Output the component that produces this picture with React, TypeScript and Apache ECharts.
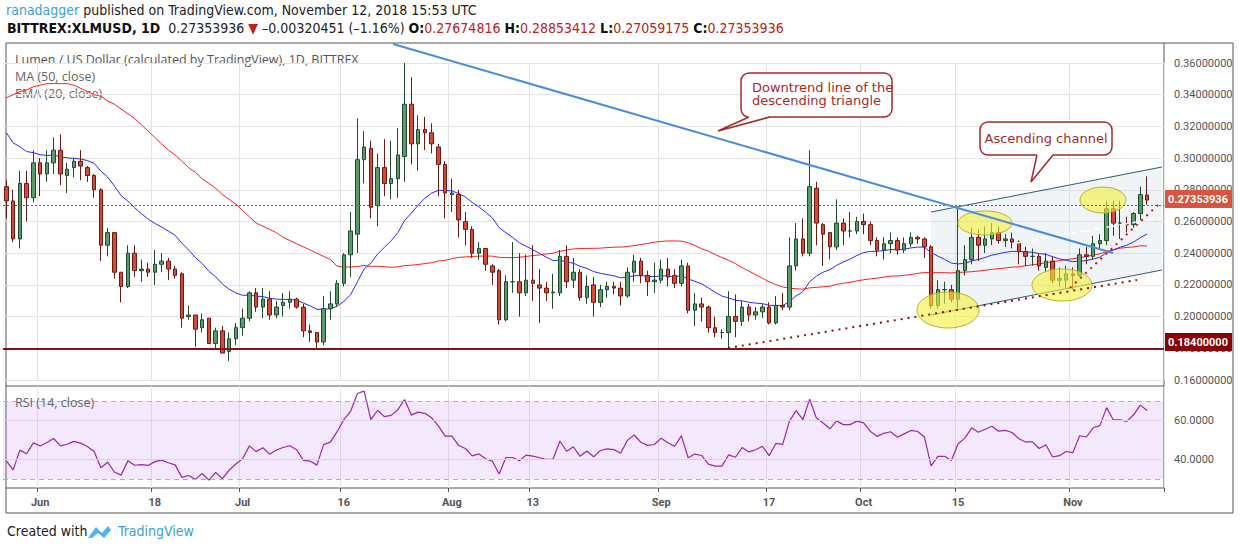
import { useEffect, useRef } from 'react';
import * as echarts from 'echarts';

// daily candles, 2018-05-27 .. 2018-11-12
const startDate = Date.UTC(2018, 4, 27);
const opens = [
  0.282, 0.273, 0.249, 0.284, 0.275, 0.297, 0.290, 0.297, 0.305, 0.289, 0.294, 0.298, 0.294, 0.289, 0.280, 0.245, 0.253, 0.228, 0.219, 0.240,
  0.229, 0.230, 0.228, 0.233, 0.235, 0.230, 0.227, 0.200, 0.201, 0.193, 0.199, 0.183, 0.191, 0.178, 0.186, 0.193, 0.199, 0.215, 0.206, 0.211,
  0.201, 0.207, 0.209, 0.211, 0.206, 0.191, 0.190, 0.184, 0.205, 0.208, 0.221, 0.239, 0.252, 0.299, 0.306, 0.270, 0.294, 0.284, 0.287, 0.301,
  0.334, 0.309, 0.318, 0.316, 0.307, 0.296, 0.277, 0.277, 0.260, 0.255, 0.240, 0.243, 0.232, 0.229, 0.198, 0.222, 0.222, 0.215, 0.223, 0.220,
  0.218, 0.215, 0.215, 0.238, 0.223, 0.228, 0.212, 0.220, 0.209, 0.217, 0.219, 0.218, 0.213, 0.228, 0.235, 0.226, 0.222, 0.223, 0.230, 0.226,
  0.221, 0.232, 0.204, 0.208, 0.206, 0.193, 0.190, 0.190, 0.200, 0.197, 0.206, 0.201, 0.203, 0.206, 0.196, 0.207, 0.206, 0.232, 0.249, 0.240,
  0.281, 0.258, 0.253, 0.244, 0.259, 0.254, 0.254, 0.260, 0.258, 0.248, 0.242, 0.246, 0.248, 0.242, 0.246, 0.250, 0.249, 0.244, 0.207, 0.217,
  0.217, 0.211, 0.229, 0.236, 0.250, 0.245, 0.249, 0.253, 0.248, 0.249, 0.247, 0.241, 0.238, 0.238, 0.231, 0.235, 0.223, 0.223, 0.227, 0.226,
  0.239, 0.238, 0.246, 0.248, 0.268, 0.259, 0.258, 0.258, 0.265, 0.27674816,
];
const closes = [
  0.273, 0.249, 0.284, 0.275, 0.297, 0.290, 0.297, 0.305, 0.290, 0.293, 0.298, 0.295, 0.289, 0.280, 0.245, 0.253, 0.228, 0.219, 0.240, 0.229,
  0.230, 0.228, 0.233, 0.235, 0.230, 0.226, 0.199, 0.201, 0.192, 0.198, 0.183, 0.191, 0.177, 0.186, 0.193, 0.199, 0.215, 0.206, 0.211, 0.201,
  0.206, 0.209, 0.211, 0.206, 0.191, 0.190, 0.184, 0.205, 0.208, 0.221, 0.239, 0.254, 0.299, 0.307, 0.269, 0.294, 0.284, 0.287, 0.302, 0.334,
  0.309, 0.318, 0.316, 0.309, 0.296, 0.278, 0.278, 0.261, 0.255, 0.240, 0.243, 0.233, 0.228, 0.198, 0.222, 0.222, 0.215, 0.223, 0.221, 0.218,
  0.215, 0.2155, 0.238, 0.222, 0.228, 0.212, 0.219, 0.209, 0.217, 0.219, 0.218, 0.213, 0.228, 0.235, 0.226, 0.222, 0.223, 0.230, 0.225, 0.221,
  0.232, 0.204, 0.208, 0.206, 0.193, 0.190, 0.190, 0.200, 0.197, 0.206, 0.201, 0.203, 0.206, 0.196, 0.207, 0.206, 0.232, 0.249, 0.240, 0.282,
  0.259, 0.252, 0.244, 0.259, 0.254, 0.254, 0.260, 0.258, 0.248, 0.242, 0.246, 0.248, 0.242, 0.246, 0.250, 0.249, 0.244, 0.207, 0.217, 0.217,
  0.211, 0.229, 0.236, 0.250, 0.245, 0.249, 0.253, 0.248, 0.249, 0.247, 0.241, 0.238, 0.238, 0.232, 0.235, 0.223, 0.224, 0.227, 0.226, 0.239,
  0.238, 0.246, 0.248, 0.268, 0.259, 0.259, 0.258, 0.265, 0.277, 0.27353936,
];
const lows = [
  0.262, 0.247, 0.243, 0.260, 0.272, 0.276, 0.285, 0.290, 0.283, 0.278, 0.288, 0.286, 0.285, 0.275, 0.235, 0.238, 0.224, 0.209, 0.218, 0.225,
  0.222, 0.225, 0.220, 0.228, 0.223, 0.224, 0.193, 0.198, 0.181, 0.190, 0.183, 0.180, 0.177, 0.172, 0.182, 0.188, 0.197, 0.203, 0.199, 0.198,
  0.199, 0.200, 0.205, 0.205, 0.187, 0.184, 0.179, 0.182, 0.198, 0.206, 0.219, 0.225, 0.240, 0.284, 0.262, 0.257, 0.276, 0.274, 0.275, 0.285,
  0.296, 0.292, 0.305, 0.303, 0.276, 0.262, 0.266, 0.250, 0.245, 0.237, 0.236, 0.229, 0.220, 0.195, 0.197, 0.215, 0.200, 0.213, 0.210, 0.196,
  0.210, 0.205, 0.213, 0.218, 0.218, 0.210, 0.208, 0.200, 0.206, 0.212, 0.214, 0.207, 0.212, 0.222, 0.221, 0.213, 0.215, 0.221, 0.219, 0.218,
  0.219, 0.202, 0.194, 0.197, 0.190, 0.187, 0.186, 0.180, 0.187, 0.194, 0.197, 0.198, 0.199, 0.195, 0.195, 0.204, 0.204, 0.229, 0.238, 0.238,
  0.245, 0.232, 0.236, 0.242, 0.245, 0.250, 0.252, 0.252, 0.245, 0.238, 0.236, 0.240, 0.239, 0.240, 0.244, 0.246, 0.237, 0.205, 0.205, 0.208,
  0.209, 0.205, 0.226, 0.233, 0.235, 0.240, 0.245, 0.246, 0.244, 0.243, 0.233, 0.232, 0.232, 0.229, 0.228, 0.221, 0.219, 0.218, 0.217, 0.225,
  0.233, 0.236, 0.243, 0.245, 0.251, 0.249, 0.253, 0.256, 0.261, 0.27059175,
];
const highs = [
  0.286, 0.280, 0.292, 0.292, 0.305, 0.300, 0.305, 0.313, 0.315, 0.297, 0.300, 0.305, 0.295, 0.290, 0.281, 0.256, 0.253, 0.228, 0.245, 0.245,
  0.236, 0.234, 0.242, 0.240, 0.237, 0.232, 0.228, 0.207, 0.201, 0.202, 0.199, 0.193, 0.194, 0.190, 0.196, 0.205, 0.216, 0.218, 0.218, 0.216,
  0.210, 0.215, 0.216, 0.212, 0.208, 0.195, 0.190, 0.213, 0.216, 0.223, 0.240, 0.266, 0.325, 0.317, 0.311, 0.303, 0.312, 0.311, 0.319, 0.360,
  0.351, 0.327, 0.326, 0.322, 0.309, 0.298, 0.287, 0.280, 0.266, 0.257, 0.247, 0.243, 0.233, 0.230, 0.226, 0.247, 0.240, 0.239, 0.245, 0.230,
  0.222, 0.227, 0.242, 0.245, 0.237, 0.230, 0.226, 0.225, 0.220, 0.222, 0.222, 0.222, 0.231, 0.239, 0.237, 0.229, 0.234, 0.236, 0.237, 0.230,
  0.236, 0.234, 0.215, 0.212, 0.207, 0.200, 0.192, 0.216, 0.214, 0.210, 0.208, 0.206, 0.208, 0.209, 0.213, 0.215, 0.250, 0.259, 0.262, 0.305,
  0.285, 0.259, 0.253, 0.274, 0.262, 0.266, 0.263, 0.265, 0.260, 0.250, 0.250, 0.253, 0.250, 0.250, 0.253, 0.251, 0.250, 0.245, 0.223, 0.222,
  0.220, 0.269, 0.245, 0.256, 0.255, 0.257, 0.259, 0.257, 0.252, 0.253, 0.248, 0.244, 0.243, 0.240, 0.240, 0.238, 0.231, 0.232, 0.231, 0.243,
  0.244, 0.251, 0.252, 0.273, 0.273, 0.273, 0.263, 0.266, 0.282, 0.28853412,
];
const ma50Head = [
  0.338, 0.340, 0.342, 0.343, 0.345, 0.346, 0.347, 0.347, 0.347, 0.347, 0.346, 0.344, 0.342, 0.340, 0.339, 0.336, 0.334, 0.331, 0.328, 0.325,
  0.321, 0.317, 0.313, 0.309, 0.305, 0.302, 0.298, 0.294, 0.291, 0.287, 0.284, 0.281, 0.277, 0.274, 0.271, 0.267, 0.263, 0.259, 0.257, 0.255,
  0.253, 0.250, 0.248, 0.246, 0.244, 0.242, 0.240, 0.238, 0.236,
];
const emaSeed = 0.316;
const rsiSeedGain = 0.0055;
const rsiSeedLoss = 0.0085;
const tickDays = ['06-01', '06-18', '07-01', '07-16', '08-01', '08-13', '09-01', '09-17', '10-01', '10-15', '11-01'];
const monthNames = ['Jan', 'Feb', 'Mar', 'Apr', 'May', 'Jun', 'Jul', 'Aug', 'Sep', 'Oct', 'Nov', 'Dec'];
const priceTicks = [0.16, 0.18, 0.2, 0.22, 0.24, 0.26, 0.28, 0.3, 0.32, 0.34, 0.36];
const lastPrice = 0.27353936;
const supportLevel = 0.184;

const categories: string[] = [];
for (let i = 0; i < closes.length + 2; i++) {
  const d = new Date(startDate + i * 86400000);
  categories.push(String(d.getUTCMonth() + 1).padStart(2, '0') + '-' + String(d.getUTCDate()).padStart(2, '0'));
}
const isTick = (_i: number, v: string) => tickDays.includes(v);
const tickLabel = (v: string) => {
  const [m, d] = v.split('-').map(Number);
  return d === 1 ? monthNames[m - 1] : String(d);
};

const candles = closes.map((c, i) => [opens[i], c, lows[i], highs[i]]);

const ma50 = closes.map((_, i) => {
  if (i < 49) return ma50Head[i];
  let s = 0;
  for (let j = i - 49; j <= i; j++) s += closes[j];
  return s / 50;
});

const ema20: number[] = [];
closes.forEach((c, i) => {
  const prev = i === 0 ? emaSeed : ema20[i - 1];
  ema20.push(i === 0 ? emaSeed : prev + (2 / 21) * (c - prev));
});

const rsi: number[] = [];
{
  let ag = rsiSeedGain;
  let al = rsiSeedLoss;
  closes.forEach((c, i) => {
    if (i > 0) {
      const d = c - closes[i - 1];
      ag = (ag * 13 + Math.max(d, 0)) / 14;
      al = (al * 13 + Math.max(-d, 0)) / 14;
    }
    rsi.push(100 - 100 / (1 + ag / al));
  });
}

const T = '#a52a2a';
const narrow = '"Liberation Sans Narrow", "DejaVu Sans Condensed", Roboto, sans-serif';

const App: React.FC = () => {
  const chartRef = useRef<HTMLDivElement | null>(null);

  useEffect(() => {
    if (!chartRef.current) return;
    const chart = echarts.init(chartRef.current, undefined, { renderer: 'svg' });

    const xBase = {
      type: 'category' as const,
      data: categories,
      boundaryGap: true,
      axisLine: { show: false },
      splitLine: { show: true, interval: isTick, lineStyle: { color: '#e4e4e4' } },
    };

    const ellipse = (cx: number, cy: number, rx: number, ry: number) => ({
      type: 'ellipse',
      shape: { cx, cy, rx, ry },
      style: { fill: 'rgba(245,240,60,0.6)', stroke: '#b8b030', lineWidth: 1 },
      z: 5,
    });

    chart.setOption({
      animation: false,
      grid: [
        { left: 3, right: 76, top: 63, height: 317 },
        { left: 3, right: 76, top: 386, height: 102 },
      ],
      xAxis: [
        { ...xBase, gridIndex: 0, axisTick: { show: false }, axisLabel: { show: false } },
        {
          ...xBase,
          gridIndex: 1,
          axisTick: { show: true, interval: isTick, length: 4, lineStyle: { color: '#555' } },
          axisLabel: {
            interval: isTick,
            formatter: tickLabel,
            color: '#555',
            fontSize: 11,
            fontWeight: 'bold',
            fontFamily: 'Roboto',
            margin: 9,
          },
        },
      ],
      yAxis: [
        {
          gridIndex: 0,
          type: 'value',
          position: 'right',
          min: priceTicks[0],
          max: priceTicks[priceTicks.length - 1],
          interval: 0.02,
          axisLine: { show: false },
          axisTick: { show: false },
          axisLabel: { formatter: (v: number) => v.toFixed(8), color: '#555', fontSize: 11, fontFamily: 'Roboto', margin: 10 },
          splitLine: { lineStyle: { color: '#e4e4e4' } },
        },
        {
          gridIndex: 1,
          type: 'value',
          position: 'right',
          min: 25.4,
          max: 77.7,
          axisLine: { show: false },
          axisTick: { show: false },
          axisLabel: { show: false },
          splitLine: { show: false },
        },
      ],
      series: [
        {
          type: 'candlestick',
          xAxisIndex: 0,
          yAxisIndex: 0,
          data: candles,
          barWidth: 4,
          clip: false,
          itemStyle: {
            color: '#5a9a6c',
            borderColor: '#1f4a2b',
            color0: '#d4493a',
            borderColor0: '#6a1a12',
            borderWidth: 1,
          },
          markLine: {
            silent: true,
            symbol: 'none',
            label: { show: false },
            data: [
              { yAxis: supportLevel, lineStyle: { color: '#8b1010', width: 2, type: 'solid' } },
              { yAxis: lastPrice, lineStyle: { color: '#c0392b', width: 1, type: [2, 2] } },
            ],
          },
          z: 3,
        },
        {
          type: 'line',
          name: 'MA (50, close)',
          data: ma50,
          showSymbol: false,
          lineStyle: { color: '#ff1f1f', width: 1 },
          z: 2,
        },
        {
          type: 'line',
          name: 'EMA (20, close)',
          data: ema20,
          showSymbol: false,
          lineStyle: { color: '#2a2aff', width: 1 },
          z: 2,
        },
        {
          type: 'line',
          xAxisIndex: 1,
          yAxisIndex: 1,
          data: rsi,
          showSymbol: false,
          lineStyle: { color: '#9c27b0', width: 1.2 },
          markArea: {
            silent: true,
            itemStyle: { color: 'rgba(190,120,240,0.17)' },
            data: [[{ yAxis: 30 }, { yAxis: 70 }]],
          },
          markLine: {
            silent: true,
            symbol: 'none',
            data: [
              { yAxis: 70, lineStyle: { color: '#b8a8c0', type: [5, 4], width: 1 }, label: { show: false } },
              { yAxis: 30, lineStyle: { color: '#b8a8c0', type: [5, 4], width: 1 }, label: { show: false } },
              {
                yAxis: 60,
                lineStyle: { color: '#ddd0e4', type: 'solid', width: 1 },
                label: { show: true, position: 'end', formatter: '60.0000', color: '#555', fontSize: 11, fontFamily: 'Roboto', distance: 10 },
              },
              {
                yAxis: 40,
                lineStyle: { color: '#ddd0e4', type: 'solid', width: 1 },
                label: { show: true, position: 'end', formatter: '40.0000', color: '#555', fontSize: 11, fontFamily: 'Roboto', distance: 10 },
              },
            ],
          },
        },
      ],
      graphic: [
        // frames
        { type: 'rect', shape: { x: 6, y: 43, width: 1227, height: 470 }, style: { fill: 'none', stroke: '#555', lineWidth: 1 }, silent: true },
        { type: 'line', shape: { x1: 1164, y1: 43, x2: 1164, y2: 488 }, style: { stroke: '#555', lineWidth: 1 } },
        { type: 'line', shape: { x1: 6, y1: 386, x2: 1164, y2: 386 }, style: { stroke: '#555', lineWidth: 1 } },
        { type: 'line', shape: { x1: 6, y1: 488, x2: 1164, y2: 488 }, style: { stroke: '#555', lineWidth: 1 } },
        // header
        {
          type: 'text', x: 6, y: 3,
          style: {
            text: '{a|ranadagger} published on TradingView.com, November 12, 2018 15:53 UTC',
            font: '14px ' + narrow, fill: '#222',
            rich: { a: { fill: '#3ba0d8', font: '14px ' + narrow } },
          },
        },
        {
          type: 'text', x: 7, y: 21,
          style: {
            text: '{b|BITTREX:XLMUSD, 1D}  0.27353936 {r|▼} –0.00320451 (–1.16%) {b|O:}{r|0.27674816} {b|H:}{r|0.28853412} {b|L:}{r|0.27059175} {b|C:}{r|0.27353936}',
            font: '14px ' + narrow, fill: '#222',
            rich: {
              b: { font: 'bold 14px ' + narrow, fill: '#111' },
              r: { font: '14px ' + narrow, fill: '#c0201a' },
            },
          },
        },
        // legend
        { type: 'text', x: 15, y: 53, style: { text: 'Lumen / US Dollar (calculated by TradingView), 1D, BITTREX', font: '12.5px "Open Sans"', fill: '#555' } },
        { type: 'text', x: 15, y: 70, style: { text: 'MA (50, close)', font: '12.5px "Open Sans"', fill: '#666' } },
        { type: 'text', x: 15, y: 87, style: { text: 'EMA (20, close)', font: '12.5px "Open Sans"', fill: '#666' } },
        { type: 'text', x: 15, y: 396, style: { text: 'RSI (14, close)', font: '12.5px "Open Sans"', fill: '#666' }, z: 10 },
        // ascending channel
        {
          type: 'polygon',
          shape: { points: [[931, 212], [1162, 167], [1162, 270], [931, 315]] },
          style: { fill: 'rgba(200,210,220,0.25)' }, z: 1,
        },
        { type: 'line', shape: { x1: 931, y1: 212, x2: 1162, y2: 167 }, style: { stroke: '#2f5d68', lineWidth: 1 }, z: 4 },
        { type: 'line', shape: { x1: 931, y1: 315, x2: 1162, y2: 270 }, style: { stroke: '#2f5d68', lineWidth: 1 }, z: 4 },
        { type: 'line', shape: { x1: 1017, y1: 243, x2: 1160, y2: 218 }, style: { stroke: '#ffffff', lineWidth: 1.5, lineDash: [8, 5] }, z: 4 },
        // downtrend line and support lines
        { type: 'line', shape: { x1: 393, y1: 44, x2: 1113, y2: 253 }, style: { stroke: '#4a8be0', lineWidth: 2 }, z: 6 },
        { type: 'line', shape: { x1: 728, y1: 348, x2: 1137, y2: 280 }, style: { stroke: '#8b1010', lineWidth: 2, lineDash: [2, 5] }, z: 6 },
        { type: 'line', shape: { x1: 1070, y1: 288, x2: 1160, y2: 203 }, style: { stroke: '#c01818', lineWidth: 2, lineDash: [2, 5] }, z: 6 },
        ellipse(948, 310, 31, 18),
        ellipse(985, 223, 27, 12),
        ellipse(1062, 285, 30, 16),
        ellipse(1103, 200, 23, 13),
        // callout: downtrend
        { type: 'rect', shape: { x: 741, y: 73, width: 151, height: 44, r: 8 }, style: { fill: '#fff', stroke: T, lineWidth: 1.5 }, z: 8 },
        { type: 'polygon', shape: { points: [[749, 116], [718, 131], [770, 116]] }, style: { fill: '#fff' }, z: 9 },
        { type: 'polyline', shape: { points: [[749, 117], [718, 131], [770, 117]] }, style: { stroke: T, lineWidth: 1.5, fill: 'none' }, z: 9 },
        { type: 'text', x: 752, y: 81, style: { text: 'Downtrend line of the\ndescending triangle', font: '13px "DejaVu Sans"', fill: T, lineHeight: 13 }, z: 10 },
        // callout: channel
        { type: 'rect', shape: { x: 980, y: 122, width: 132, height: 33, r: 8 }, style: { fill: '#fff', stroke: T, lineWidth: 1.5 }, z: 8 },
        { type: 'polygon', shape: { points: [[1037, 154], [1031, 182], [1053, 154]] }, style: { fill: '#fff' }, z: 9 },
        { type: 'polyline', shape: { points: [[1037, 155], [1031, 182], [1053, 155]] }, style: { stroke: T, lineWidth: 1.5, fill: 'none' }, z: 9 },
        { type: 'text', x: 1046, y: 138, style: { text: 'Ascending channel', font: '13px "DejaVu Sans"', fill: T, align: 'center', verticalAlign: 'middle' }, z: 10 },
        // price tags
        { type: 'rect', shape: { x: 1165, y: 190, width: 67, height: 18 }, style: { fill: '#d9533f' }, z: 10 },
        { type: 'text', x: 1198, y: 199, style: { text: lastPrice.toFixed(8), font: 'bold 11px Roboto', fill: '#fff', align: 'center', verticalAlign: 'middle' }, z: 11 },
        { type: 'rect', shape: { x: 1165, y: 333, width: 67, height: 18 }, style: { fill: '#8b0000' }, z: 10 },
        { type: 'text', x: 1198, y: 342, style: { text: supportLevel.toFixed(8), font: 'bold 11px Roboto', fill: '#fff', align: 'center', verticalAlign: 'middle' }, z: 11 },
        // footer
        { type: 'text', x: 7, y: 524, style: { text: 'Created with', font: '14px ' + narrow, fill: '#222' } },
        { type: 'polygon', shape: { points: [[88, 538], [96, 527], [102, 533], [108, 526], [111, 530], [104, 538], [98, 533], [92, 538]] }, style: { fill: '#4fb4e8' } },
        { type: 'text', x: 118, y: 524, style: { text: 'TradingView', font: '14px ' + narrow, fill: '#3ba0d8' } },
      ],
    });

    return () => {
      chart.dispose();
    };
  }, []);

  return <div ref={chartRef} style={{ position: 'fixed', left: 0, top: 0, width: 1240, height: 550, background: '#fff' }} />;
};

export default App;
